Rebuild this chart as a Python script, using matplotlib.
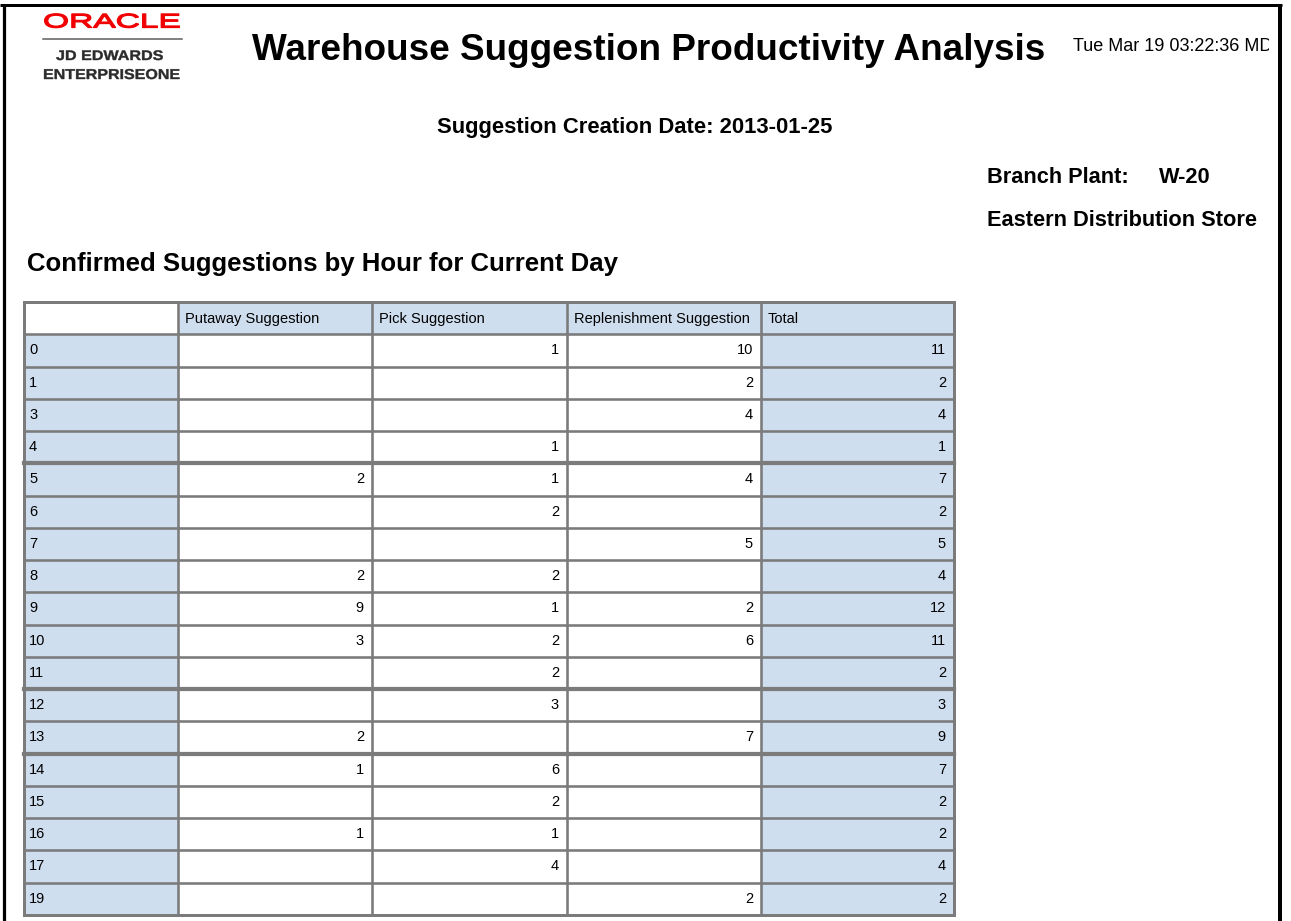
import matplotlib
matplotlib.use("Agg")
import matplotlib.pyplot as plt
from matplotlib.patches import Rectangle
from matplotlib.patheffects import AbstractPathEffect
from matplotlib.transforms import Affine2D, Bbox, TransformedBbox

# ---------------- data ----------------
hours = ["0", "1", "3", "4", "5", "6", "7", "8", "9", "10", "11", "12", "13",
         "14", "15", "16", "17", "19"]
putaway = [None, None, None, None, 2, None, None, 2, 9, 3, None, None, 2,
           1, None, 1, None, None]
pick = [1, None, None, 1, 1, 2, None, 2, 1, 2, 2, 3, None,
        6, 2, 1, 4, None]
replenishment = [10, 2, 4, None, 4, None, 5, None, 2, 6, None, None, 7,
                 None, None, None, None, 2]
total = [11, 2, 4, 1, 7, 2, 5, 4, 12, 11, 2, 3, 9, 7, 2, 2, 4, 2]
col_headers = ["", "Putaway Suggestion", "Pick Suggestion",
               "Replenishment Suggestion", "Total"]

report_title = "Warehouse Suggestion Productivity Analysis"
timestamp = "Tue Mar 19 03:22:36 MDT 2013"
creation_date = "Suggestion Creation Date: 2013-01-25"
branch_label = "Branch Plant:"
branch_value = "W-20"
branch_name = "Eastern Distribution Store"
section_title = "Confirmed Suggestions by Hour for Current Day"

# ---------------- style ----------------
W, H = 1291, 921
DPI = 100
FONT = "Liberation Sans"
BLUE = "#cfdeef"
GRID = "#7b7b7b"
PX = 72.0 / DPI  # points per pixel


class HStretch(AbstractPathEffect):
    """Horizontally stretch glyphs (wide logo lettering), optional outline."""

    def __init__(self, sx, stroke=0.0):
        super().__init__()
        self._sx = sx
        self._stroke = stroke

    def draw_path(self, renderer, gc, tpath, affine, rgbFace=None):
        tr = Affine2D().scale(self._sx, 1.0) + affine
        if self._stroke > 0:
            gc0 = renderer.new_gc()
            gc0.copy_properties(gc)
            gc0.set_linewidth(self._stroke)
            gc0.set_foreground(rgbFace)
            renderer.draw_path(gc0, tpath, tr, rgbFace)
            gc0.restore()
        else:
            renderer.draw_path(gc, tpath, tr, rgbFace)


fig = plt.figure(figsize=(W / DPI, H / DPI), dpi=DPI)
ax = fig.add_axes([0, 0, 1, 1])
ax.set_xlim(0, W)
ax.set_ylim(H, 0)
ax.axis("off")

# ---------------- page frame ----------------
ax.plot([0, 1282], [5.5, 5.5], color="black", lw=3 * PX, solid_capstyle="butt")
ax.plot([3.5, 3.5], [5, H], color="black", lw=3.2 * PX, solid_capstyle="butt")
ax.plot([1279.5, 1279.5], [5, H], color="black", lw=4 * PX, solid_capstyle="butt")

# ---------------- logo ----------------
ax.text(43, 27.5, "ORACLE", fontfamily=FONT, fontsize=14.2, color="#f00000",
        ha="left", va="baseline", path_effects=[HStretch(1.70, stroke=0.9)])
ax.plot([43, 182], [39.5, 39.5], color="#5a5a5a", lw=1.5 * PX)
ax.text(56, 60, "JD EDWARDS", fontfamily=FONT, fontsize=10, fontweight="bold",
        color="#2b2b2b", ha="left", va="baseline", path_effects=[HStretch(1.16, stroke=0.3)])
ax.text(43, 79, "ENTERPRISEONE", fontfamily=FONT, fontsize=10.3, fontweight="bold",
        color="#2b2b2b", ha="left", va="baseline", path_effects=[HStretch(1.12, stroke=0.3)])

# ---------------- header texts ----------------
ax.text(252, 60, report_title, fontfamily=FONT, fontsize=26.6, fontweight="bold",
        color="black", ha="left", va="baseline")
ts = ax.text(1073, 51, timestamp, fontfamily=FONT, fontsize=13, color="black",
             ha="left", va="baseline")
ts.set_clip_box(TransformedBbox(Bbox([[1000, 0], [1269, 100]]), ax.transData))
ts.set_clip_on(True)

ax.text(635, 133, creation_date, fontfamily=FONT, fontsize=15.8, fontweight="bold",
        color="black", ha="center", va="baseline")
ax.text(987, 183, branch_label, fontfamily=FONT, fontsize=15.7, fontweight="bold",
        color="black", ha="left", va="baseline")
ax.text(1159, 183, branch_value, fontfamily=FONT, fontsize=15.7, fontweight="bold",
        color="black", ha="left", va="baseline")
ax.text(987, 226, branch_name, fontfamily=FONT, fontsize=15.7, fontweight="bold",
        color="black", ha="left", va="baseline")
ax.text(27, 271, section_title, fontfamily=FONT, fontsize=18.5, fontweight="bold",
        color="black", ha="left", va="baseline")

# ---------------- table ----------------
col_edges = [24, 178, 372, 567, 761, 954]
tbl_top, tbl_bottom = 302, 915
n_rows = len(hours) + 1
row_h = (tbl_bottom - tbl_top) / n_rows
row_edges = [tbl_top + i * row_h for i in range(n_rows + 1)]

# fills
for r in range(n_rows):
    for c in range(len(col_headers)):
        if r == 0:
            fc = "white" if c == 0 else BLUE
        else:
            fc = BLUE if c in (0, 4) else "white"
        ax.add_patch(Rectangle((col_edges[c], row_edges[r]),
                               col_edges[c + 1] - col_edges[c], row_h,
                               facecolor=fc, edgecolor="none", zorder=1))

# grid lines (the line below hour rows 4, 11 and 13 is heavier)
thick_after = {"4", "11", "13"}
for i, y in enumerate(row_edges):
    lw = 2.6
    if 2 <= i <= len(hours) and hours[i - 2] in thick_after:
        lw = 4.2
    if i in (0, n_rows):
        lw = 3.0
    ax.plot([col_edges[0], col_edges[-1]], [y, y], color=GRID, lw=lw * PX,
            solid_capstyle="projecting", zorder=3)
for j, x in enumerate(col_edges):
    lw = 3.0 if j in (0, len(col_edges) - 1) else 2.6
    ax.plot([x, x], [tbl_top, tbl_bottom], color=GRID, lw=lw * PX,
            solid_capstyle="projecting", zorder=3)

cell_fs = 10.5
# header row text
for c, label in enumerate(col_headers):
    if label:
        ax.text(col_edges[c] + 7, row_edges[0] + 21, label, fontfamily=FONT,
                fontsize=cell_fs, color="black", ha="left", va="baseline", zorder=4)

# body rows
series = [putaway, pick, replenishment, total]
for r, hour in enumerate(hours):
    y = row_edges[r + 1] + 20
    ax.text(col_edges[0] + 5, y, hour, fontfamily=FONT, fontsize=cell_fs,
            color="black", ha="left", va="baseline", zorder=4)
    for k, vals in enumerate(series):
        v = vals[r]
        if v is not None:
            ax.text(col_edges[k + 2] - 8, y, str(v), fontfamily=FONT,
                    fontsize=cell_fs, color="black", ha="right", va="baseline",
                    zorder=4)

fig.savefig("out.png", dpi=DPI, facecolor="white")
